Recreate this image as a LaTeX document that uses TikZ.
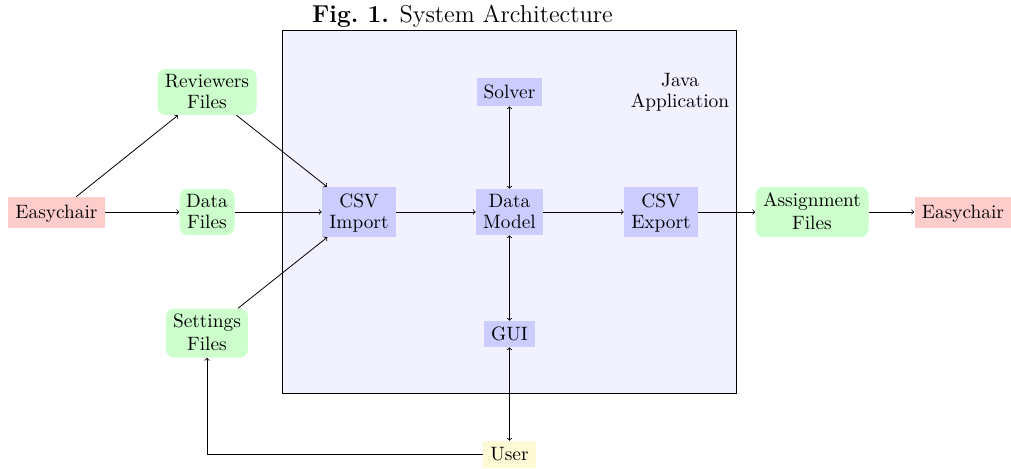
\documentclass[tikz,border=0pt]{standalone}
\definecolor{fillB}{RGB}{204,204,255}
\definecolor{fillG}{RGB}{204,255,204}
\definecolor{fillR}{RGB}{255,204,204}
\definecolor{fillY}{RGB}{255,250,214}
\definecolor{fillP}{RGB}{241,241,255}
\newcommand\tx[1]{\raisebox{-1.5pt}[\height][\depth]{\scalebox{1.45}{\renewcommand\arraystretch{0.9}\begin{tabular}{@{}c@{}}#1\end{tabular}}}}
\tikzset{
 x=0.75pt,y=-0.75pt,
 base/.style={align=center,inner sep=0pt},
 blue/.style={base,fill=fillB},
 green/.style={base,fill=fillG,rounded corners=6pt},
 red/.style={base,fill=fillR},
 yellow/.style={base,fill=fillY},
 conn/.style={draw,->,line width=0.6pt},
 bi/.style={draw,<->,line width=0.6pt},
}
\begin{document}
\begin{tikzpicture}
\useasboundingbox (0,0) rectangle (1011,468);
\node[draw,fill=fillP,line width=0.6pt,minimum width=454*0.75pt,minimum height=363*0.75pt,inner sep=0pt] (app) at (509.8,212) {};
\node[base] (title) at (462.5,16) {\scalebox{1.525}{\fontsize{12}{14}\selectfont\textbf{Fig.\ 1.} System Architecture}};
\node[base] (java) at (680,90.5) {\tx{Java\\Application}};
\node[blue,minimum width=65*0.75pt,minimum height=28*0.75pt] (solver) at (509.5,92) {\tx{Solver}};
\node[blue,minimum width=74*0.75pt,minimum height=50*0.75pt] (import) at (359,212) {\tx{CSV\\Import}};
\node[blue,minimum width=67*0.75pt,minimum height=46*0.75pt] (model) at (509.5,212) {\tx{Data\\Model}};
\node[blue,minimum width=74*0.75pt,minimum height=50*0.75pt] (export) at (661,212) {\tx{CSV\\Export}};
\node[blue,minimum width=51*0.75pt,minimum height=26*0.75pt] (gui) at (509.5,334) {\tx{GUI}};
\node[green,minimum width=99*0.75pt,minimum height=46*0.75pt] (rev) at (207,92) {\tx{Reviewers\\Files}};
\node[green,minimum width=55*0.75pt,minimum height=46*0.75pt] (data) at (207,212) {\tx{Data\\Files}};
\node[green,minimum width=82*0.75pt,minimum height=49*0.75pt] (set) at (207,333) {\tx{Settings\\[1pt]Files}};
\node[green,minimum width=113*0.75pt,minimum height=50*0.75pt] (assign) at (812,212) {\tx{Assignment\\[1pt]Files}};
\node[red,minimum width=97*0.75pt,minimum height=31*0.75pt] (e1) at (56.5,212.5) {\tx{Easychair}};
\node[red,minimum width=97*0.75pt,minimum height=31*0.75pt] (e2) at (963,212.5) {\tx{Easychair}};
\node[yellow,minimum width=53*0.75pt,minimum height=27*0.75pt] (user) at (509.5,454.5) {\tx{User}};
\draw[conn] (e1) -- (rev);
\draw[conn] (e1.east |- data) -- (data);
\draw[conn] (rev) -- (import);
\draw[conn] (data) -- (import);
\draw[conn] (set) -- (import);
\draw[conn] (import) -- (model);
\draw[conn] (model) -- (export);
\draw[conn] (export) -- (assign);
\draw[conn] (assign) -- (e2.west |- assign);
\draw[bi] (solver) -- (model);
\draw[bi] (model) -- (gui);
\draw[bi] (gui) -- (user);
\draw[conn] (user) -| (set);
\end{tikzpicture}
\end{document}
